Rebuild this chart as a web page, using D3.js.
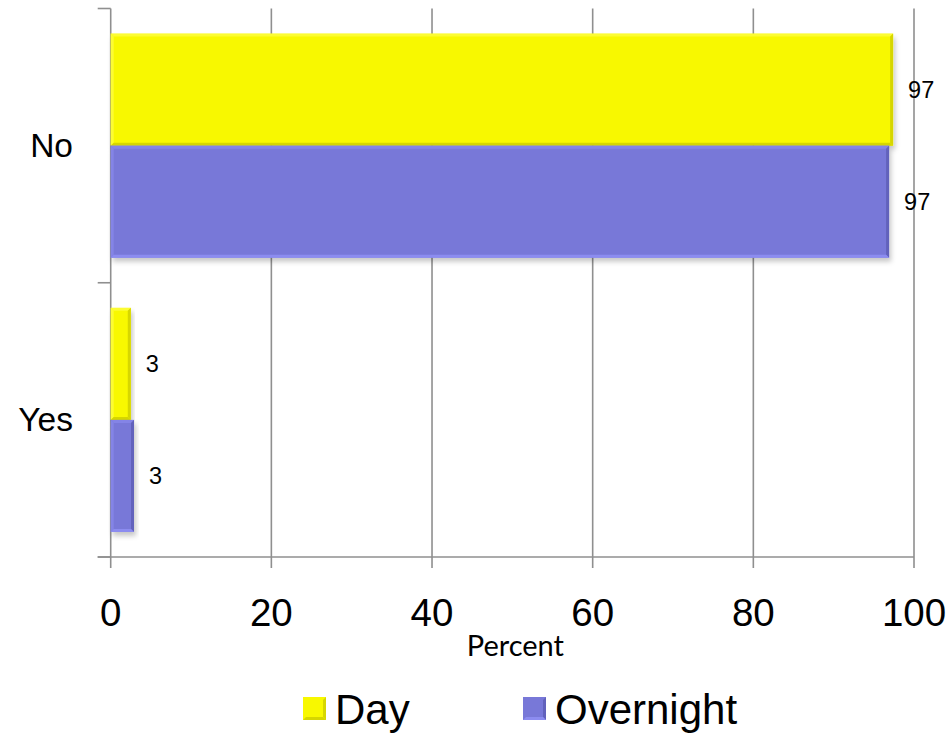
<!DOCTYPE html>
<html>
<head>
<meta charset="utf-8">
<script src="https://cdn.jsdelivr.net/npm/d3@7"></script>
<style>
  html, body { margin: 0; padding: 0; background: #fff; }
  svg { display: block; }
</style>
</head>
<body>
<svg id="chart" width="949" height="733"></svg>
<script>
// ---- data ----
const categories = ["No", "Yes"];
const seriesNames = ["Day", "Overnight"];
const dayValues = [97.4, 2.5];
const overnightValues = [96.9, 2.9];
const xTicks = [0, 20, 40, 60, 80, 100];
const axisTitle = "Percent";

const seriesColors = { Day: "#f8f800", Overnight: "#7878d8" };
const edgeDark = { Day: "#d6d600", Overnight: "#6262bc" };
const edgeLight = { Day: "#ffff55", Overnight: "#8c8cf0" };

const svg = d3.select("#chart");
const plotLeft = 110.7, plotRight = 914, plotTop = 8.5, plotBottom = 557;

const x = d3.scaleLinear().domain([0, 100]).range([plotLeft, plotRight]);
const y = d3.scaleBand().domain(categories).range([plotTop, plotBottom])
  .paddingInner(0.183).paddingOuter(0.0915);
const ySub = d3.scaleBand().domain(seriesNames).range([0, y.bandwidth()]).padding(0);

const rows = [];
categories.forEach((c, i) => {
  rows.push({ cat: c, series: "Day", value: dayValues[i] });
  rows.push({ cat: c, series: "Overnight", value: overnightValues[i] });
});

// shadow filter
const defs = svg.append("defs");
const f = defs.append("filter").attr("id", "shadow")
  .attr("x", "-10%").attr("y", "-10%").attr("width", "130%").attr("height", "130%");
f.append("feDropShadow").attr("dx", 2).attr("dy", 4).attr("stdDeviation", 2.5)
  .attr("flood-color", "#000").attr("flood-opacity", 0.22);

const gridColor = "#8f8f8f";

// vertical gridlines (extend below axis as ticks)
svg.append("g").selectAll("line").data(xTicks).join("line")
  .attr("x1", d => x(d)).attr("x2", d => x(d))
  .attr("y1", plotTop).attr("y2", plotBottom + 11)
  .attr("stroke", gridColor).attr("stroke-width", 1.6);

// bottom axis line
svg.append("line")
  .attr("x1", plotLeft - 13).attr("x2", plotRight).attr("y1", plotBottom).attr("y2", plotBottom)
  .attr("stroke", gridColor).attr("stroke-width", 1.6);

// left axis ticks at category boundaries
const boundaries = [plotTop, (y("No") + y.bandwidth() + y("Yes")) / 2, plotBottom];
svg.append("g").selectAll("line").data(boundaries).join("line")
  .attr("x1", plotLeft - 13).attr("x2", plotLeft)
  .attr("y1", d => d).attr("y2", d => d)
  .attr("stroke", gridColor).attr("stroke-width", 1.6);

// bars
const barG = svg.append("g");
rows.forEach(r => {
  const bx = x(0), by = y(r.cat) + ySub(r.series);
  const bw = x(r.value) - x(0), bh = ySub.bandwidth();
  const g = barG.append("g");
  g.append("rect").attr("x", bx).attr("y", by).attr("width", bw).attr("height", bh)
    .attr("fill", seriesColors[r.series]).attr("filter", "url(#shadow)");
  const e = 3;
  const pts = a => a.map(p => p.join(",")).join(" ");
  g.append("polygon")
    .attr("points", pts([[bx, by], [bx + bw, by], [bx + bw - e, by + e], [bx + e, by + e]]))
    .attr("fill", edgeLight[r.series]).attr("opacity", 0.6);
  g.append("polygon")
    .attr("points", pts([[bx, by], [bx + e, by + e], [bx + e, by + bh - e], [bx, by + bh]]))
    .attr("fill", edgeLight[r.series]).attr("opacity", 0.6);
  g.append("polygon")
    .attr("points", pts([[bx + bw, by], [bx + bw, by + bh], [bx + bw - e, by + bh - e], [bx + bw - e, by + e]]))
    .attr("fill", edgeDark[r.series]);
  g.append("polygon")
    .attr("points", pts([[bx, by + bh], [bx + bw, by + bh], [bx + bw - e, by + bh - e], [bx + e, by + bh - e]]))
    .attr("fill", r.series === "Day" ? edgeDark[r.series] : edgeLight[r.series]);
});

// value labels
svg.append("g").selectAll("text").data(rows).join("text")
  .attr("x", d => x(d.value) + 15)
  .attr("y", d => y(d.cat) + ySub(d.series) + ySub.bandwidth() / 2 + 8.5)
  .attr("font-family", "Liberation Sans, Arial, sans-serif")
  .attr("font-size", 23.5).attr("fill", "#000")
  .text(d => Math.round(d.value));

// category labels
svg.append("g").selectAll("text").data(categories).join("text")
  .attr("x", 73)
  .attr("y", d => y(d) + y.bandwidth() / 2 + 11.5)
  .attr("text-anchor", "end")
  .attr("font-family", "Liberation Sans, Arial, sans-serif")
  .attr("font-size", 33.5).attr("fill", "#000")
  .text(d => d);

// x tick labels
svg.append("g").selectAll("text").data(xTicks).join("text")
  .attr("x", d => x(d)).attr("y", 626)
  .attr("text-anchor", "middle")
  .attr("font-family", "Liberation Sans, Arial, sans-serif")
  .attr("font-size", 38.5).attr("fill", "#000")
  .text(d => d);

// axis title
svg.append("text")
  .attr("x", (plotLeft + plotRight) / 2 + 3).attr("y", 656)
  .attr("text-anchor", "middle")
  .attr("font-family", "Lato, 'Open Sans', sans-serif")
  .attr("font-size", 29).attr("fill", "#000")
  .text(axisTitle);

// legend
const legendX = [303, 523];
const legend = svg.append("g").selectAll("g").data(seriesNames).join("g")
  .attr("transform", (d, i) => `translate(${legendX[i]},697)`);
legend.append("rect").attr("width", 23).attr("height", 23)
  .attr("fill", d => seriesColors[d]);
legend.append("polygon").attr("points", "23,0 23,23 20,20 20,3")
  .attr("fill", d => edgeDark[d]);
legend.append("polygon").attr("points", "0,23 23,23 20,20 3,20")
  .attr("fill", d => d === "Day" ? edgeDark[d] : edgeLight[d]);
legend.append("text").attr("x", 32).attr("y", 26.5)
  .attr("font-family", "Liberation Sans, Arial, sans-serif")
  .attr("font-size", 42).attr("fill", "#000")
  .text(d => d);
</script>
</body>
</html>
